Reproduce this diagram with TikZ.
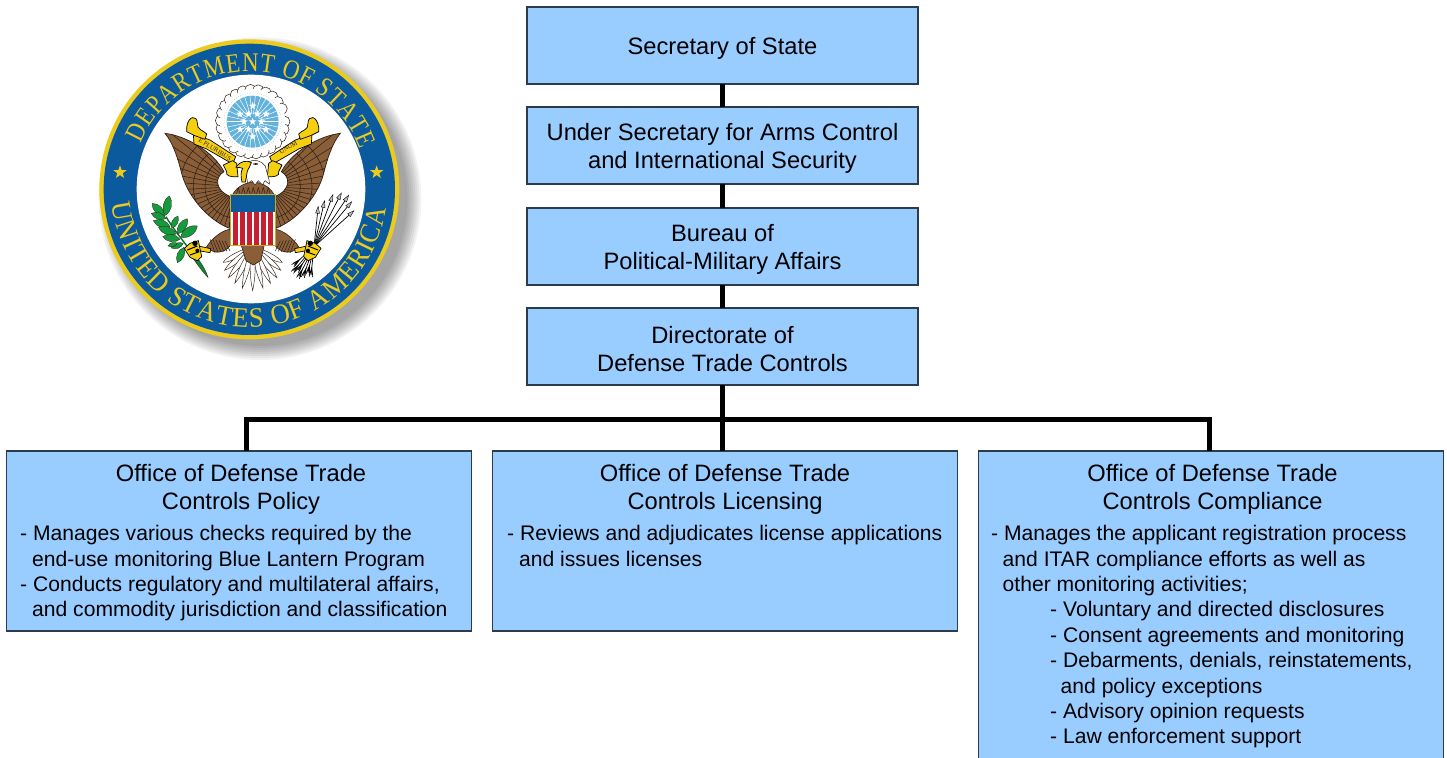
\documentclass[tikz,border=0pt]{standalone}
\usepackage{fontspec}
\setmainfont{Liberation Sans}
\newfontfamily\sealfont{Liberation Serif}
\newfontfamily\sealtop[FakeStretch=0.85]{Liberation Serif}
\newfontfamily\sealbottom[FakeStretch=0.95]{Liberation Serif}
\usetikzlibrary{decorations.text,positioning}
\definecolor{boxblue}{HTML}{99CCFF}
\definecolor{boxedge}{HTML}{2C3C4C}
\definecolor{sealblue}{HTML}{0C5A9E}
\definecolor{sealgold}{HTML}{EBCB1E}
\definecolor{ribgold}{HTML}{F6CF10}
\definecolor{sealbrown}{HTML}{8A5E38}
\definecolor{sealdark}{HTML}{2E2014}
\definecolor{sealgreen}{HTML}{159A3E}
\definecolor{sealred}{HTML}{C81E30}
\definecolor{sealsky}{HTML}{62B2DC}
\tikzset{
  orgbox/.style={draw=boxedge,line width=1.1pt,fill=boxblue,minimum width=391pt,minimum height=77pt,inner sep=0pt,outer sep=0pt},
  orgtext/.style={inner sep=0pt,align=center,yshift=-3pt,font=\fontsize{23.7}{28}\selectfont},
  officebox/.style={draw=boxedge,line width=1.1pt,fill=boxblue,minimum width=464.5pt,inner sep=0pt,outer sep=0pt,anchor=north},
  officetitle/.style={inner sep=0pt,anchor=north,align=center,font=\fontsize{23.7}{28.4}\selectfont},
  officebody/.style={inner sep=0pt,anchor=north west,align=left,font=\fontsize{21.1}{25.4}\selectfont},
  conn/.style={line width=5pt,draw=black},
  feather/.style={draw=sealdark,line width=.45pt,fill=white},
  goldpart/.style={draw=black,line width=.7pt,fill=ribgold},
  olive/.style={draw=sealdark,line width=.3pt,fill=sealgreen},
}
\newcommand\sealstar[4]{\fill[#4,shift={(#1,#2)},scale=#3]
  (-90:1) -- (-54:.4) -- (-18:1) -- (18:.4) -- (54:1) -- (90:.4) -- (126:1) -- (162:.4) -- (198:1) -- (234:.4) -- cycle;}
\def\wingpath{(225,310) .. controls (290,318) and (370,365) .. (402,425) .. controls (375,440) and (372,480) .. (422,500) -- (418,595) .. controls (345,565) and (290,490) .. (275,430) .. controls (265,390) and (250,340) .. (225,310) -- cycle}
\newcommand\sealhalf{%
  \fill[sealbrown] \wingpath;
  \begin{scope}
    \clip \wingpath;
    \foreach \a in {100,107,...,262} {\draw[sealdark,line width=.55pt] (440,470) -- ++(\a:300);}
    \foreach \r in {95,130,170} {\draw[sealdark,line width=.55pt] (440,470) circle[radius=\r];}
  \end{scope}
  \draw[sealdark,line width=.7pt] \wingpath;
  \draw[goldpart] (310,312) -- (360,330) -- (437,380) -- (428,402) -- (350,357) -- (312,342) -- cycle;
  \draw[goldpart] (290,292) .. controls (295,255) and (322,255) .. (322,280) .. controls (320,300) and (340,300) .. (350,312) -- (345,328) -- (312,316) -- (290,305) -- cycle;
  \draw[goldpart] (400,405) -- (428,392) -- (440,400) -- (444,440) .. controls (425,442) and (405,438) .. (410,425) -- cycle;
  \draw[sealdark,fill=sealbrown,line width=.6pt] (350,650) .. controls (370,620) and (400,600) .. (420,598) -- (422,645) .. controls (405,670) and (370,675) .. (350,650) -- cycle;
  \foreach \a in {0,1,...,5} {\draw[sealdark,line width=.5pt] (360+9*\a,628+\a) -- (375+9*\a,668-\a);}
  \draw[goldpart] (325,648) -- (362,656) -- (360,668) -- (325,662) -- cycle;
}
\begin{document}
\begin{tikzpicture}[x=1pt,y=-1pt]
\clip (0,0) rectangle (1447,757);
\fill[white] (0,0) rectangle (1447,757);

\begin{scope}[shift={(90,30)},x=0.33333pt,y=-0.33333pt]
  \foreach \r in {484,478,...,442} {\fill[black,opacity=.05] (510,506) circle[radius=\r];}
  \fill[sealgold] (478,478) circle[radius=450];
  \fill[sealblue] (478,478) circle[radius=437];
  \fill[white] (483,477) circle[radius=343];
  \sealstar{90}{427}{21}{sealgold}
  \sealstar{860}{427}{21}{sealgold}
  \foreach \a in {0,14,...,346} {\draw[sealdark,fill=white,line width=.5pt] (488,275) ++(\a:95) circle[radius=17];}
  \fill[white] (488,275) circle[radius=98];
  \draw[gray,line width=.4pt,dotted] (488,275) circle[radius=86];
  \fill[sealsky] (488,275) circle[radius=78];
  \foreach \a in {0,12,...,348} {\draw[white,line width=.5pt] (488,275) ++(\a:22) -- ++(\a:56);}
  \foreach \x/\y in {488/228,450/252,476/252,502/252,528/252,462/275,488/275,514/275,450/298,476/298,502/298,528/298,488/320} {\sealstar{\x}{\y}{12}{white}}
  \foreach \a/\L in {-152/100,-28/100,-140/110,-40/110,-128/118,-52/118,-116/122,-64/122,-104/128,-76/128,-90/132}
    {\draw[feather,shift={(488,650)},rotate=\a] (0,0) .. controls (35,-10) and (85,-10) .. (\L,0) .. controls (85,10) and (35,10) .. (0,0) -- cycle;}
  \sealhalf
  \begin{scope}[shift={(976,0)},xscale=-1]
    \sealhalf
  \end{scope}
  \draw[sealdark,fill=sealbrown,line width=.6pt] (452,640) -- (524,640) -- (512,692) -- (490,705) -- (468,692) -- cycle;
  \draw[sealdark,fill=sealbrown,line width=.6pt] (425,500) .. controls (435,475) and (460,458) .. (490,456) .. controls (520,458) and (545,475) .. (555,500) -- cycle;
  \foreach \x in {445,460,...,535} {\draw[sealdark,line width=.5pt] (\x,472) -- (\x-6,495) (\x,472) -- (\x+6,495);}
  \fill[white] (421,494) rectangle (555,648);
  \foreach \x in {430,451,472,493,514,535} {\fill[sealred] (\x,545) rectangle ++(15,100);}
  \fill[sealblue] (421,494) rectangle (555,545);
  \draw[sealgold!85!black,line width=1pt] (421,494) rectangle (555,648);
  \draw[sealdark,fill=white,line width=.5pt] (470,400) .. controls (490,384) and (515,392) .. (526,408) .. controls (530,430) and (540,450) .. (538,462) -- (525,452) -- (517,465) -- (505,452) -- (495,465) -- (485,452) -- (473,460) .. controls (470,440) and (465,420) .. (470,400) -- cycle;
  \fill[sealdark] (497,402) ellipse[x radius=8,y radius=2.5];
  \draw[goldpart] (438,412) .. controls (450,392) and (472,390) .. (484,398) -- (478,412) .. controls (470,420) and (470,440) .. (466,456) -- (456,456) .. controls (452,440) and (452,425) .. (458,415) .. controls (450,412) and (445,412) .. (438,412) -- cycle;
  \node[inner sep=0pt,rotate=-32,font=\sealfont\fontsize{6.5}{6.5}\selectfont,text=sealdark] (motto1) at (375,358) {E PLURIBUS};
  \node[inner sep=0pt,rotate=30,font=\sealfont\fontsize{6.5}{6.5}\selectfont,text=sealdark] (motto2) at (595,352) {UNUM};
  \draw[sealgreen!70!black,line width=1.4pt] (228,560) .. controls (245,590) and (270,620) .. (292,650);
  \fill[sealgreen!85!black,draw=sealdark,line width=.3pt] (295,650) .. controls (320,680) and (345,710) .. (354,742) .. controls (335,725) and (315,690) .. (288,660) -- cycle;
  \foreach \ax/\ay/\bx/\by in {224/558/186/520, 226/556/238/498, 228/566/184/550, 240/590/190/572, 245/595/264/558, 258/612/206/592, 262/612/292/566, 272/622/322/588, 270/628/218/620, 280/640/244/654, 282/652/262/698, 262/640/234/648}
    {\draw[olive] (\ax,\ay) to[bend left=46] (\bx,\by) to[bend left=46] (\ax,\ay);}
  \foreach \a/\L/\T in {42/145/80,50/160/95,56/170/85,63/165/100,70/150/92,77/125/80,84/105/85}
    {\begin{scope}[shift={(672,650)},rotate=\a]
      \draw[black,line width=.7pt] (-\T,0) -- (\L,0);
      \draw[black,fill=gray!50,line width=.4pt] (\L+16,0) -- (\L-4,-6) -- (\L-4,6) -- cycle;
      \draw[black,line width=.6pt] (-\T,-5) -- (-\T+22,0) -- (-\T,5) (-\T-6,-5) -- (-\T+16,0) -- (-\T-6,5);
    \end{scope}}
  \draw[goldpart] (283,655) -- (300,640) -- (325,632) -- (335,680) -- (322,692) -- (300,682) -- cycle;
  \fill[black] (315,640) circle[radius=8] (322,662) circle[radius=6];
  \draw[black,line width=1pt] (292,660) -- (322,648) (300,675) -- (328,665);
  \draw[goldpart] (693,655) -- (676,640) -- (651,632) -- (641,680) -- (654,692) -- (676,682) -- cycle;
  \fill[black] (661,640) circle[radius=8] (654,662) circle[radius=6];
  \draw[black,line width=1pt] (684,660) -- (654,648) (676,675) -- (648,665);
\end{scope}
\begin{scope}[shift={(249.3,189.3)},x=1pt,y=1pt]
  \path[decorate,decoration={text along path,text align={fit to path},text color=sealgold,
    text={|\sealtop\fontsize{27}{27}\selectfont|DEPARTMENT OF STATE}}]
    (157:118) arc[start angle=157,end angle=20,radius=118];
  \path[decorate,decoration={text along path,text align={fit to path},text color=sealgold,
    text={|\sealbottom\fontsize{28}{28}\selectfont|UNITED STATES OF AMERICA}}]
    (186:138) arc[start angle=186,end angle=352,radius=138];
\end{scope}

\node[orgbox] (sec) at (722.5,45.5) {};
\node[orgbox] (under) at (722.5,145.5) {};
\node[orgbox] (bureau) at (722.5,246.5) {};
\node[orgbox] (ddtc) at (722.5,346.5) {};
\node[orgtext] (sectext) at (sec) {Secretary of State};
\node[orgtext] (undertext) at (under) {Under Secretary for Arms Control\\and International Security};
\node[orgtext] (bureautext) at (bureau) {Bureau of\\Political-Military Affairs};
\node[orgtext] (ddtctext) at (ddtc) {Directorate of\\Defense Trade Controls};
\node[officebox,minimum height=180pt] (policy) at (239,451) {};
\node[officebox,minimum height=180pt] (licensing) at (725,451) {};
\node[officebox,minimum height=330pt] (compliance) at (1211,451) {};
\coordinate (bus) at (722.5,419);
\coordinate (policydrop) at (246.5,451);
\coordinate (licensingdrop) at (722.5,451);
\coordinate (compliancedrop) at (1209,451);
\draw[conn] (sec.south) -- (under.north);
\draw[conn] (under.south) -- (bureau.north);
\draw[conn] (bureau.south) -- (ddtc.north);
\draw[conn] (ddtc.south) -- (licensingdrop);
\draw[conn] (policydrop) |- (bus) -| (compliancedrop);

\node[officetitle] (t1) at (241,464) {Office of Defense Trade\\Controls Policy};
\node[officetitle] (t2) at (725,464) {Office of Defense Trade\\Controls Licensing};
\node[officetitle] (t3) at (1212.5,464) {Office of Defense Trade\\Controls Compliance};
\node[officebody] (b1) at (20,525.2) {- Manages various checks required by the\\
  \hspace*{12pt}end-use monitoring Blue Lantern Program\\
  - Conducts regulatory and multilateral affairs,\\
  \hspace*{12pt}and commodity jurisdiction and classification};
\node[officebody] (b2) at (507,525.2) {- Reviews and adjudicates license applications\\
  \hspace*{12pt}and issues licenses};
\node[officebody] (b3) at (991,525.2) {- Manages the applicant registration process\\
  \hspace*{11.5pt}and ITAR compliance efforts as well as\\
  \hspace*{11.5pt}other monitoring activities;\\
  \hspace*{59pt}- Voluntary and directed disclosures\\
  \hspace*{59pt}- Consent agreements and monitoring\\
  \hspace*{59pt}- Debarments, denials, reinstatements,\\
  \hspace*{69.5pt}and policy exceptions\\
  \hspace*{59pt}- Advisory opinion requests\\
  \hspace*{59pt}- Law enforcement support};
\end{tikzpicture}
\end{document}
